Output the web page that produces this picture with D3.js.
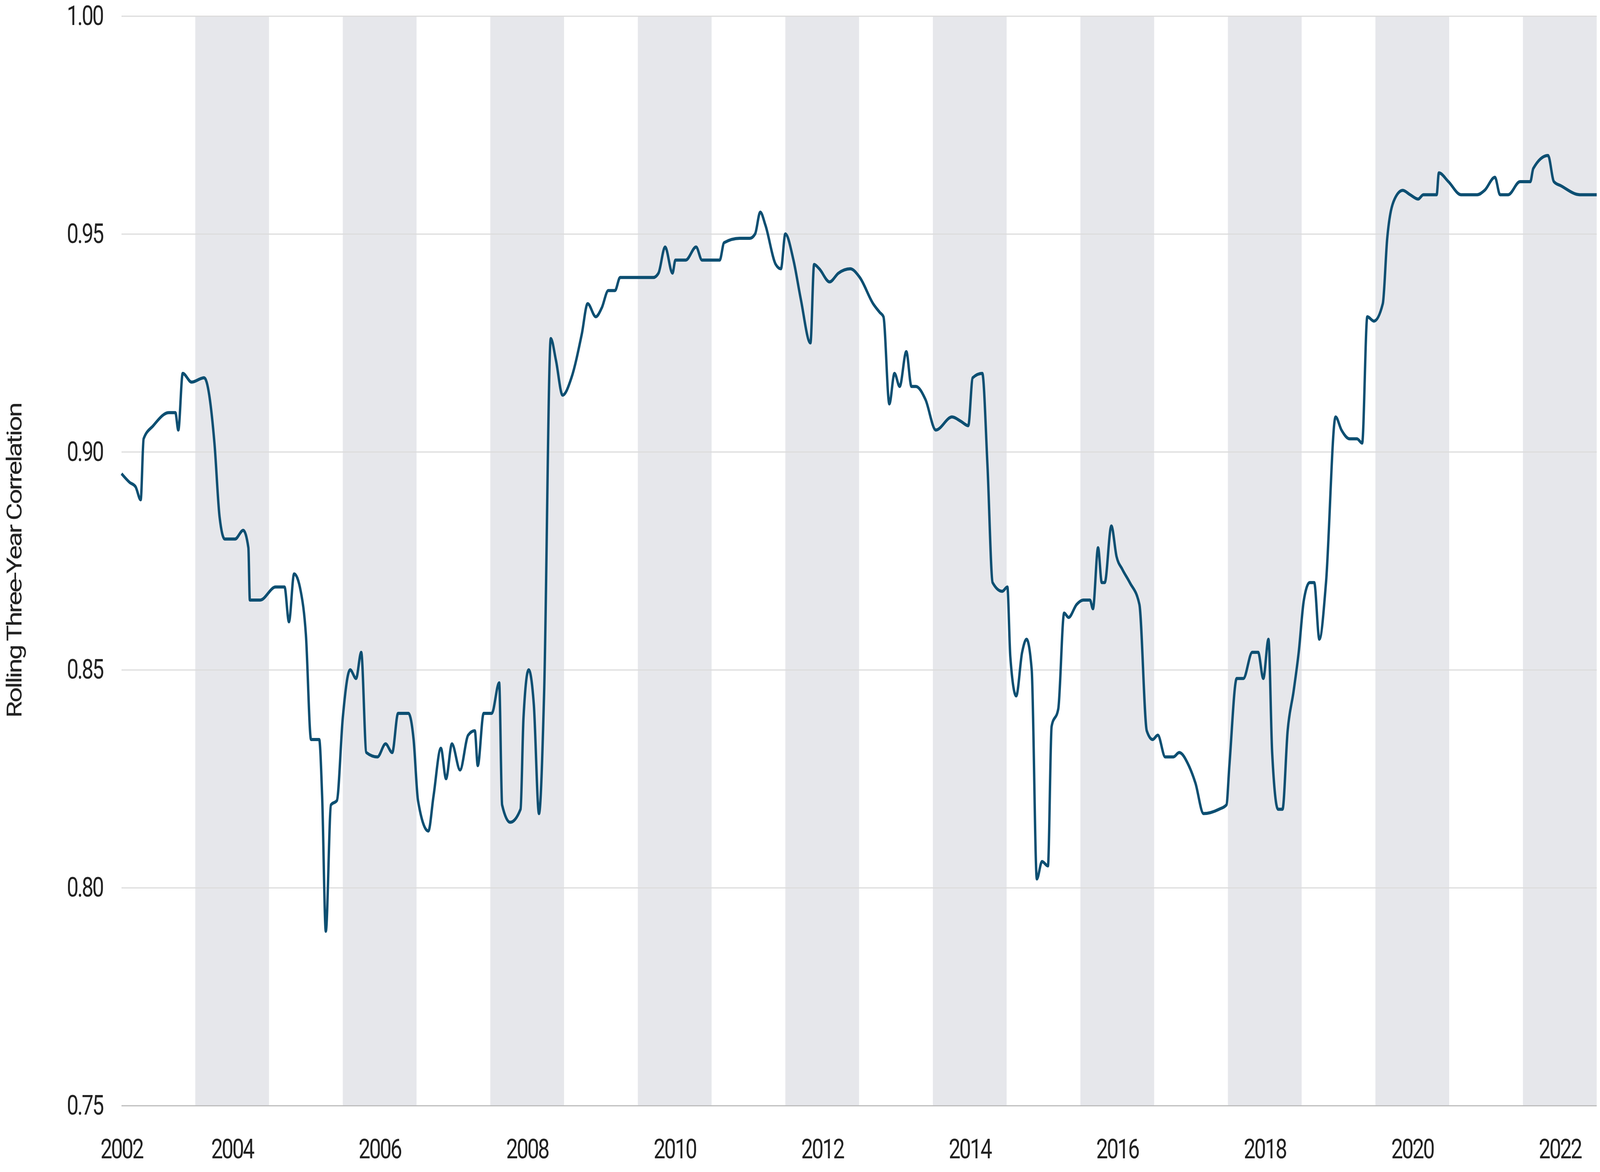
<!DOCTYPE html>
<html><head><meta charset="utf-8">
<script src="https://cdn.jsdelivr.net/npm/d3@7"></script>
<style>html,body{margin:0;padding:0;overflow:hidden;background:#fff}svg{display:block;width:100vw;height:100vh}</style>
</head><body>
<svg id="c" viewBox="0 0 5333 3000" preserveAspectRatio="none"></svg>
<script>
const years=[2002.50,2002.61,2002.69,2002.76,2002.80,2002.93,2003.14,2003.23,2003.27,2003.33,2003.45,2003.62,2003.76,2003.83,2003.90,2004.04,2004.15,2004.22,2004.24,2004.38,2004.59,2004.71,2004.77,2004.84,2004.93,2005.00,2005.07,2005.18,2005.22,2005.27,2005.34,2005.42,2005.50,2005.60,2005.68,2005.75,2005.82,2005.97,2006.08,2006.17,2006.25,2006.39,2006.46,2006.52,2006.66,2006.73,2006.83,2006.90,2006.98,2007.09,2007.20,2007.29,2007.33,2007.41,2007.52,2007.62,2007.66,2007.77,2007.91,2007.95,2008.02,2008.09,2008.16,2008.23,2008.32,2008.39,2008.48,2008.60,2008.74,2008.82,2008.93,2009.01,2009.10,2009.19,2009.26,2009.43,2009.71,2009.78,2009.87,2009.97,2010.01,2010.15,2010.29,2010.37,2010.47,2010.61,2010.67,2010.88,2011.02,2011.09,2011.16,2011.23,2011.37,2011.44,2011.50,2011.61,2011.71,2011.84,2011.89,2011.96,2012.10,2012.22,2012.38,2012.51,2012.69,2012.78,2012.83,2012.91,2012.98,2013.05,2013.14,2013.21,2013.27,2013.40,2013.54,2013.76,2013.88,2013.98,2014.04,2014.17,2014.24,2014.31,2014.44,2014.51,2014.55,2014.63,2014.71,2014.77,2014.84,2014.91,2014.98,2015.06,2015.11,2015.20,2015.28,2015.34,2015.45,2015.54,2015.63,2015.67,2015.74,2015.79,2015.83,2015.92,2015.99,2016.07,2016.17,2016.30,2016.40,2016.48,2016.55,2016.65,2016.76,2016.84,2016.97,2017.06,2017.17,2017.38,2017.48,2017.52,2017.62,2017.71,2017.83,2017.91,2017.98,2018.05,2018.10,2018.18,2018.24,2018.31,2018.39,2018.46,2018.53,2018.61,2018.67,2018.74,2018.83,2018.96,2019.04,2019.15,2019.25,2019.32,2019.39,2019.48,2019.60,2019.66,2019.76,2019.87,2019.97,2020.08,2020.15,2020.22,2020.33,2020.36,2020.49,2020.66,2020.77,2020.88,2020.98,2021.12,2021.19,2021.30,2021.46,2021.60,2021.64,2021.84,2021.92,2022.02,2022.27,2022.50];
const correlation=[0.895,0.893,0.892,0.889,0.903,0.906,0.909,0.909,0.905,0.918,0.916,0.917,0.902,0.885,0.880,0.880,0.882,0.878,0.866,0.866,0.869,0.869,0.861,0.872,0.868,0.858,0.834,0.834,0.821,0.790,0.819,0.820,0.839,0.850,0.848,0.854,0.831,0.830,0.833,0.831,0.840,0.840,0.834,0.820,0.813,0.821,0.832,0.825,0.833,0.827,0.835,0.836,0.828,0.840,0.840,0.847,0.819,0.815,0.818,0.839,0.850,0.842,0.817,0.845,0.926,0.921,0.913,0.917,0.927,0.934,0.931,0.933,0.937,0.937,0.940,0.940,0.940,0.941,0.947,0.941,0.944,0.944,0.947,0.944,0.944,0.944,0.948,0.949,0.949,0.950,0.955,0.952,0.943,0.942,0.950,0.944,0.935,0.925,0.943,0.942,0.939,0.941,0.942,0.940,0.934,0.932,0.931,0.911,0.918,0.915,0.923,0.915,0.915,0.912,0.905,0.908,0.907,0.906,0.917,0.918,0.897,0.870,0.868,0.869,0.853,0.844,0.854,0.857,0.850,0.802,0.806,0.805,0.837,0.841,0.863,0.862,0.865,0.866,0.866,0.864,0.878,0.870,0.870,0.883,0.876,0.873,0.870,0.865,0.836,0.834,0.835,0.830,0.830,0.831,0.828,0.824,0.817,0.818,0.819,0.828,0.848,0.848,0.854,0.854,0.848,0.857,0.831,0.818,0.818,0.836,0.845,0.854,0.866,0.870,0.870,0.857,0.870,0.908,0.905,0.903,0.903,0.902,0.931,0.930,0.934,0.949,0.958,0.960,0.959,0.958,0.959,0.959,0.959,0.964,0.962,0.959,0.959,0.959,0.960,0.963,0.959,0.959,0.962,0.962,0.965,0.968,0.962,0.961,0.959,0.959];
const bandCenters=[2004,2006,2008,2010,2012,2014,2016,2018,2020,2022];
const xTicks=[2002.5,2004,2006,2008,2010,2012,2014,2016,2018,2020,2022];
const xTickLabels=["2002","2004","2006","2008","2010","2012","2014","2016","2018","2020","2022"];
const yTicks=[0.75,0.80,0.85,0.90,0.95,1.00];

const W=5333,H=3000,m={l:405,r:11,t:41,b:170};
const svg=d3.select("#c");
const x=d3.scaleLinear().domain([2002.5,2022.5]).range([m.l,W-m.r]);
const y=d3.scaleLinear().domain([0.75,1.0]).range([H-m.b,m.t]);
const font="'Roboto','Liberation Sans',sans-serif";

svg.append("g").selectAll("rect").data(bandCenters).join("rect")
 .attr("x",d=>x(Math.max(d-0.5,2002.5))).attr("width",d=>x(Math.min(d+0.5,2022.5))-x(Math.max(d-0.5,2002.5)))
 .attr("y",y(1)).attr("height",y(0.75)-y(1)).attr("fill","#e6e7eb");

const ya=svg.append("g").attr("transform",`translate(${m.l},0)`)
 .call(d3.axisLeft(y).tickValues(yTicks).tickFormat(d3.format(".2f")).tickSize(-(W-m.l-m.r)).tickPadding(62));
ya.select(".domain").remove();
ya.selectAll(".tick line").attr("stroke",d=>d===0.75?"#bdbdbd":"#dcdcdc").attr("stroke-width",3);
ya.selectAll("text").attr("font-family",font).attr("font-size",70).attr("letter-spacing",-4).attr("fill","#222");

const xa=svg.append("g").attr("transform",`translate(0,${H-m.b})`)
 .call(d3.axisBottom(x).tickValues(xTicks).tickFormat((d,i)=>xTickLabels[i]).tickSize(0).tickPadding(85));
xa.select(".domain").remove();
xa.selectAll("text").attr("font-family",font).attr("font-size",70).attr("letter-spacing",-4).attr("fill","#222");

svg.append("text").attr("transform",`translate(72,${(y(1)+y(0.75))/2}) rotate(-90)`)
 .attr("text-anchor","middle").attr("font-family",font).attr("font-size",70).attr("letter-spacing",-4).attr("fill","#222")
 .text("Rolling Three-Year Correlation");

const line=d3.line().x(d=>x(d[0])).y(d=>y(d[1])).curve(d3.curveMonotoneX);
svg.append("path").datum(years.map((t,i)=>[t,correlation[i]]))
 .attr("d",line).attr("fill","none").attr("stroke","#0d4f72").attr("stroke-width",8).attr("stroke-linejoin","round");
</script>
</body></html>
